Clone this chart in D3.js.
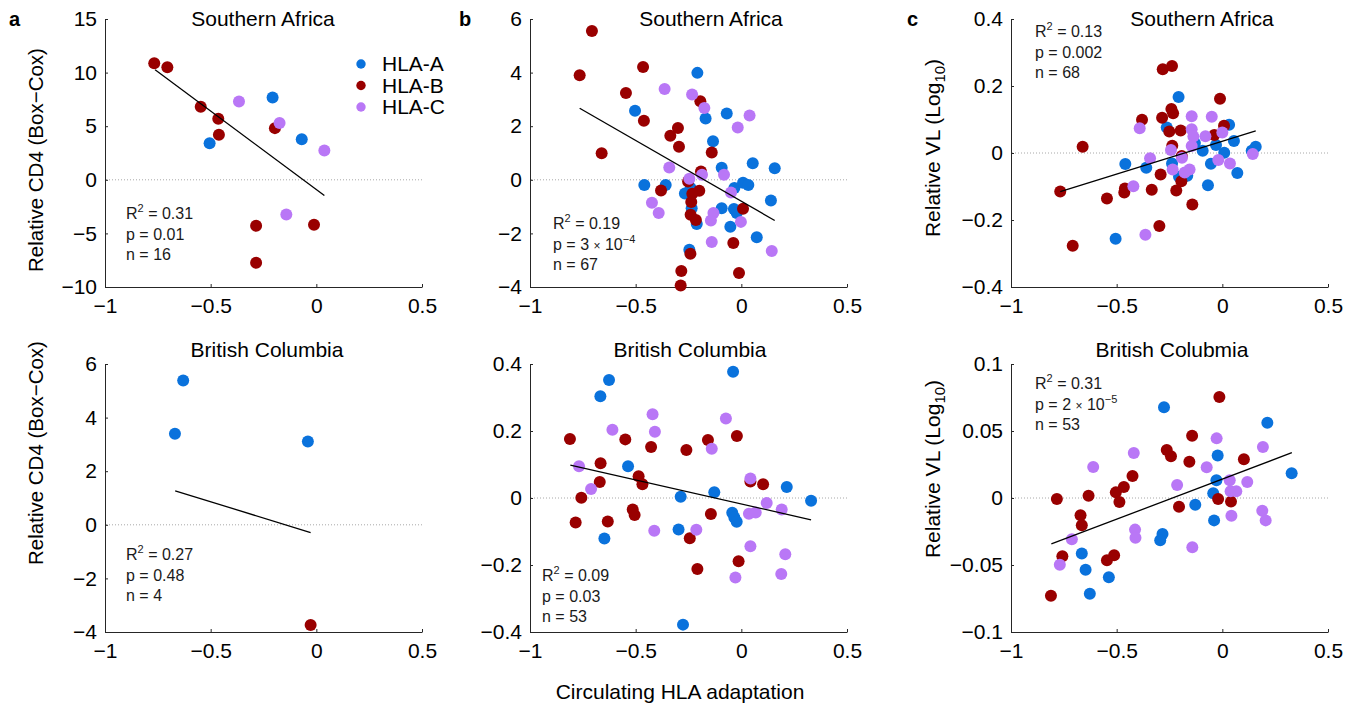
<!DOCTYPE html>
<html><head><meta charset="utf-8">
<script src="https://cdn.jsdelivr.net/npm/d3@7"></script>
<style>body{margin:0;background:#fff;} svg{display:block;font-family:"Liberation Sans",Arial,sans-serif;}</style>
</head><body><svg id="chart" width="1357" height="706"></svg>
<script>
// ---------- data ----------
const xTicks = [-1, -0.5, 0, 0.5];
const xTickLabels = ["−1", "−0.5", "0", "0.5"];
const seriesNames = ["HLA-A", "HLA-B", "HLA-C"];
const seriesColors = ["#0a72dc", "#990000", "#b977f6"];
const panelTitles = ["Southern Africa", "Southern Africa", "Southern Africa", "British Columbia", "British Columbia", "British Colubmia"];
const statR2 = ["0.31", "0.19", "0.13", "0.27", "0.09", "0.31"];
const statP = [["0.01"], ["3", "−4"], ["0.002"], ["0.48"], ["0.03"], ["2", "−5"]];
const statN = ["16", "67", "68", "4", "53", "53"];

const cd4Ticks1 = [15, 10, 5, 0, -5, -10];
const cd4Ticks2 = [6, 4, 2, 0, -2, -4];
const vlTicks1 = [0.4, 0.2, 0, -0.2, -0.4];
const bcTicks2 = [0.4, 0.2, 0, -0.2, -0.4];
const vlTicks2 = [0.1, 0.05, 0, -0.05, -0.1];

// panel a (top)
const aTopA = [[-0.207,7.68],[-0.505,3.42],[-0.069,3.79]];
const aTopB = [[-0.767,10.88],[-0.705,10.51],[-0.547,6.81],[-0.464,5.69],[-0.461,4.20],[-0.196,4.82],[-0.285,-4.29],[-0.285,-7.74],[-0.011,-4.20]];
const aTopC = [[-0.366,7.31],[-0.174,5.29],[0.038,2.74],[-0.142,-3.23]];
const aTopFit = [[-0.763,10.26],[0.038,-1.46]];

// panel b (top)
const bTopA = [[-0.208,3.99],[-0.503,2.58],[-0.169,2.29],[-0.069,2.47],[-0.134,1.44],[-0.093,0.45],[0.054,0.62],[0.158,0.43],[-0.459,-0.19],[-0.358,-0.19],[-0.267,-0.51],[-0.240,-0.31],[-0.033,-0.31],[0.008,-0.11],[0.033,-0.19],[-0.093,-1.06],[-0.035,-1.09],[-0.022,-1.24],[0.140,-0.77],[-0.235,-1.06],[-0.211,-1.65],[-0.052,-1.75],[0.073,-2.14],[-0.246,-2.61]];
const bTopB = [[-0.707,5.55],[-0.765,3.90],[-0.465,4.21],[-0.546,3.24],[-0.461,2.20],[-0.661,0.99],[-0.300,1.93],[-0.336,1.64],[-0.295,1.23],[-0.194,2.93],[-0.140,1.02],[-0.191,0.31],[-0.252,-0.06],[-0.380,-0.40],[-0.199,-0.41],[-0.232,-0.52],[-0.237,-0.83],[-0.240,-1.30],[-0.215,-1.50],[0.008,-1.08],[-0.038,-2.36],[-0.241,-2.76],[-0.284,-3.40],[-0.287,-3.94],[-0.011,-3.48]];
const bTopC = [[-0.363,3.39],[-0.233,3.18],[-0.175,2.68],[-0.017,1.95],[0.039,2.40],[-0.341,0.46],[-0.082,0.19],[-0.246,0.04],[-0.186,0.19],[-0.049,-0.47],[-0.423,-0.86],[-0.391,-1.24],[-0.132,-1.24],[-0.144,-1.52],[-0.002,-1.57],[-0.140,-2.32],[0.144,-2.66]];
const bTopFit = [[-0.765,2.67],[0.158,-1.52]];

// panel c (top)
const cTopA = [[-0.207,0.167],[-0.263,0.076],[0.032,0.084],[0.055,0.036],[-0.093,0.007],[-0.030,0.024],[0.009,0.001],[0.158,0.019],[0.139,0.007],[-0.459,-0.033],[-0.360,-0.044],[-0.238,-0.031],[-0.054,-0.032],[0.071,-0.060],[-0.205,-0.071],[-0.166,-0.068],[-0.068,-0.096],[-0.505,-0.256],[-0.130,0.030]];
const cTopB = [[-0.282,0.250],[-0.238,0.260],[-0.011,0.162],[-0.380,0.099],[-0.285,0.105],[-0.241,0.131],[-0.233,0.119],[-0.251,0.064],[-0.197,0.067],[0.008,0.081],[-0.038,0.054],[-0.237,0.022],[-0.661,0.019],[-0.192,-0.009],[-0.292,-0.064],[-0.194,-0.084],[-0.218,-0.112],[-0.334,-0.110],[-0.461,-0.106],[-0.464,-0.118],[-0.546,-0.136],[-0.767,-0.115],[-0.142,-0.154],[-0.298,-0.218],[-0.708,-0.277]];
const cTopC = [[-0.145,0.110],[-0.050,0.108],[-0.391,0.074],[-0.145,0.071],[-0.137,0.049],[-0.080,0.050],[0.000,0.061],[-0.145,0.021],[-0.243,0.009],[-0.342,-0.016],[-0.191,-0.014],[-0.019,-0.021],[0.036,-0.031],[0.144,-0.003],[-0.235,-0.049],[-0.155,-0.049],[-0.178,-0.058],[-0.421,-0.099],[-0.364,-0.244]];
const cTopFit = [[-0.767,-0.115],[0.158,0.066]];

// panel a (bottom)
const aBotA = [[-0.630,5.38],[-0.669,3.40],[-0.040,3.11]];
const aBotB = [[-0.027,-3.74]];
const aBotC = [];
const aBotFit = [[-0.668,1.27],[-0.027,-0.29]];

// panel b (bottom)
const bBotA = [[-0.626,0.352],[-0.667,0.304],[-0.039,0.377],[-0.536,0.095],[-0.287,0.004],[-0.128,0.017],[0.215,0.033],[0.330,-0.008],[-0.043,-0.044],[-0.033,-0.058],[-0.022,-0.071],[-0.297,-0.094],[-0.648,-0.121],[-0.276,-0.378]];
const bBotB = [[-0.811,0.176],[-0.549,0.175],[-0.427,0.152],[-0.260,0.143],[-0.158,0.173],[-0.021,0.185],[-0.666,0.104],[-0.670,0.048],[-0.486,0.065],[-0.468,0.041],[-0.757,0.001],[0.043,0.049],[0.103,0.041],[-0.784,-0.073],[-0.632,-0.070],[-0.514,-0.034],[-0.505,-0.051],[-0.144,-0.048],[-0.244,-0.120],[-0.208,-0.212],[-0.013,-0.189]];
const bBotC = [[-0.420,0.250],[-0.409,0.198],[-0.610,0.204],[-0.073,0.237],[-0.140,0.147],[-0.768,0.095],[-0.711,0.027],[0.043,0.058],[0.120,-0.015],[0.191,-0.034],[0.036,-0.047],[0.068,-0.043],[-0.412,-0.098],[-0.213,-0.095],[0.043,-0.144],[0.208,-0.168],[-0.028,-0.237],[0.189,-0.227]];
const bBotFit = [[-0.809,0.098],[0.330,-0.065]];

// panel c (bottom)
const cBotA = [[-0.276,0.0677],[0.213,0.0562],[-0.022,0.0318],[0.328,0.0184],[-0.028,0.0132],[-0.043,0.0035],[-0.128,-0.0050],[-0.039,-0.0167],[-0.283,-0.0269],[-0.294,-0.0316],[-0.665,-0.0415],[-0.647,-0.0535],[-0.537,-0.0592],[-0.627,-0.0714]];
const cBotB = [[-0.014,0.0754],[-0.143,0.0465],[-0.263,0.0358],[-0.243,0.0311],[-0.156,0.0271],[0.102,0.0289],[-0.425,0.0164],[-0.466,0.0082],[-0.504,0.0042],[-0.633,0.0017],[-0.783,-0.0007],[-0.487,-0.0030],[-0.020,-0.0007],[0.041,-0.0027],[-0.205,-0.0065],[-0.671,-0.0129],[-0.665,-0.0204],[-0.757,-0.0435],[-0.546,-0.0465],[-0.512,-0.0428],[-0.811,-0.0729]];
const cBotC = [[-0.027,0.0445],[0.192,0.0381],[-0.419,0.0336],[-0.074,0.0229],[-0.611,0.0231],[-0.214,0.0097],[0.035,0.0132],[0.118,0.0119],[0.039,0.0050],[0.066,0.0050],[0.043,-0.0132],[0.189,-0.0095],[0.205,-0.0167],[-0.413,-0.0236],[-0.411,-0.0296],[-0.712,-0.0308],[-0.142,-0.0368],[-0.769,-0.0498]];
const cBotFit = [[-0.809,-0.0343],[0.329,0.0338]];

// ---------- layout ----------
const W = 317, H = 268;
const FONT = 21;
const panels = [
  {left:105, top:19, yTicks:cd4Ticks1, series:[aTopA,aTopB,aTopC], fit:aTopFit, titleX:263, statX:126, statY:219, letter:"a", letterX:9, ylabel:"cd4", ylabelY:160, legend:true},
  {left:530, top:19, yTicks:cd4Ticks2, series:[bTopA,bTopB,bTopC], fit:bTopFit, titleX:711, statX:553, statY:229, letter:"b", letterX:459},
  {left:1011, top:19, yTicks:vlTicks1, series:[cTopA,cTopB,cTopC], fit:cTopFit, titleX:1202, statX:1035, statY:37, letter:"c", letterX:907, ylabel:"vl", ylabelY:148},
  {left:105, top:364, yTicks:cd4Ticks2, series:[aBotA,aBotB,aBotC], fit:aBotFit, titleX:267, statX:126, statY:560, ylabel:"cd4", ylabelY:453},
  {left:530, top:364, yTicks:bcTicks2, series:[bBotA,bBotB,bBotC], fit:bBotFit, titleX:690, statX:542, statY:581},
  {left:1011, top:364, yTicks:vlTicks2, series:[cBotA,cBotB,cBotC], fit:cBotFit, titleX:1172, statX:1035, statY:389, ylabel:"vl", ylabelY:469}
];

const svg = d3.select("#chart");
const fmtY = v => String(v).replace("-", "−");

panels.forEach((p, i) => {
  const g = svg.append("g");
  const x = d3.scaleLinear().domain([-1, 0.5]).range([p.left, p.left + W]);
  const yd = d3.extent(p.yTicks);
  const y = d3.scaleLinear().domain(yd).range([p.top + H, p.top]);

  // zero reference line
  g.append("line")
    .attr("x1", x(-1) + 1).attr("x2", x(0.5))
    .attr("y1", y(0)).attr("y2", y(0))
    .attr("stroke", "#a8a8a8").attr("stroke-width", 1)
    .attr("stroke-dasharray", "1,2");

  // axes
  const xa = g.append("g").attr("transform", `translate(0,${p.top + H})`)
    .call(d3.axisBottom(x).tickValues(xTicks).tickFormat((d, k) => xTickLabels[k])
      .tickSizeInner(-3).tickSizeOuter(0).tickPadding(11));
  const ya = g.append("g").attr("transform", `translate(${p.left},0)`)
    .call(d3.axisLeft(y).tickValues(p.yTicks).tickFormat(fmtY)
      .tickSizeInner(-3).tickSizeOuter(0).tickPadding(8));
  [xa, ya].forEach(a => {
    a.attr("font-size", FONT).attr("font-family", null);
    a.selectAll("path,line").attr("stroke", "#262626").attr("stroke-width", 1);
    a.selectAll("text").attr("fill", "#000");
  });

  // points
  p.series.forEach((s, si) => {
    g.append("g").selectAll("circle").data(s).join("circle")
      .attr("cx", d => x(d[0])).attr("cy", d => y(d[1]))
      .attr("r", 6).attr("fill", seriesColors[si]);
  });

  // fit line
  g.append("path")
    .attr("d", d3.line().x(d => x(d[0])).y(d => y(d[1]))(p.fit))
    .attr("fill", "none").attr("stroke", "#000").attr("stroke-width", 1.3);

  // title
  g.append("text").attr("x", p.titleX).attr("y", i < 3 ? 26 : 357)
    .attr("text-anchor", "middle").attr("font-size", FONT).attr("fill", "#000")
    .text(panelTitles[i]);

  // stats
  const st = g.append("g").attr("font-size", 16).attr("fill", "#1a1a1a");
  const t1 = st.append("text").attr("x", p.statX).attr("y", p.statY);
  t1.append("tspan").text("R");
  t1.append("tspan").attr("font-size", 11).attr("dy", -7).text("2");
  t1.append("tspan").attr("dy", 7).text(" = " + statR2[i]);
  const t2 = st.append("text").attr("x", p.statX).attr("y", p.statY + 20.7);
  if (statP[i].length === 1) {
    t2.text("p = " + statP[i][0]);
  } else {
    t2.append("tspan").text("p = " + statP[i][0] + " ");
    t2.append("tspan").attr("font-size", 12).text("×");
    t2.append("tspan").text(" 10");
    t2.append("tspan").attr("font-size", 11).attr("dy", -7).text(statP[i][1]);
  }
  st.append("text").attr("x", p.statX).attr("y", p.statY + 41.4).text("n = " + statN[i]);

  // panel letter
  if (p.letter) {
    g.append("text").attr("x", p.letterX).attr("y", 26)
      .attr("font-size", 20).attr("font-weight", "bold").attr("fill", "#000").text(p.letter);
  }

  // y label
  if (p.ylabel) {
    const lx = p.ylabel === "cd4" ? 43 : 939.5;
    const yl = g.append("text")
      .attr("transform", `translate(${lx},${p.ylabelY}) rotate(-90)`)
      .attr("text-anchor", "middle").attr("font-size", p.ylabel === "cd4" ? 20.5 : FONT).attr("fill", "#000");
    if (p.ylabel === "cd4") {
      yl.text("Relative CD4 (Box−Cox)");
    } else {
      yl.append("tspan").text("Relative VL (Log");
      yl.append("tspan").attr("font-size", 15).attr("dy", 5).text("10");
      yl.append("tspan").attr("dy", -5).text(")");
    }
  }

  // legend
  if (p.legend) {
    const lg = g.append("g");
    seriesNames.forEach((nm, k) => {
      const ly = 64 + k * 21.5;
      lg.append("circle").attr("cx", 361).attr("cy", ly).attr("r", 4.7).attr("fill", seriesColors[k]);
      lg.append("text").attr("x", 382).attr("y", ly).attr("dy", "0.35em")
        .attr("font-size", FONT).attr("fill", "#000").text(nm);
    });
  }
});

// x axis label
svg.append("text").attr("x", 680).attr("y", 699).attr("text-anchor", "middle")
  .attr("font-size", FONT).attr("fill", "#000").text("Circulating HLA adaptation");
</script>
</body></html>
